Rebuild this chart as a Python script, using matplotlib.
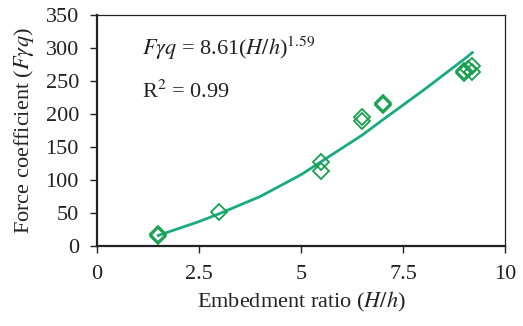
import numpy as np
import matplotlib
matplotlib.use("Agg")
import matplotlib.pyplot as plt

plt.rcParams['font.family'] = ['Liberation Serif', 'DejaVu Serif']
plt.rcParams['mathtext.fontset'] = 'stix'

# measured points
ratio = [1.5, 1.5, 3.0, 5.5, 5.5, 6.5, 6.5, 7.0, 7.0, 9.0, 9.0, 9.1, 9.2, 9.2]
force = [18, 15, 52, 127, 113, 196, 190, 216, 214, 265, 262, 268, 273, 263]

# fitted curve
fit_x = [1.5, 2.5, 3.0, 4.0, 5.0, 5.5, 6.5, 7.0, 8.0, 9.0, 9.2]
fit_y = [16, 37, 49, 75, 108, 128, 168, 191, 236, 283, 293]

xticks = [0, 2.5, 5, 7.5, 10]
xticklabels = ['0', '2.5', '5', '7.5', '10']
yticks = [0, 50, 100, 150, 200, 250, 300, 350]

fig = plt.figure(figsize=(5.23, 3.26), dpi=100)
ax = fig.add_axes([0.1855, 0.2454, 0.78, 0.7086])

ax.plot(fit_x, fit_y, color='#1aaa80', lw=2, zorder=2)
ax.plot(ratio, force, ls='none', marker='D', ms=8, mfc='none',
        mec='#17a04e', mew=1.3, zorder=3)

ax.set_xlim(0, 10)
ax.set_ylim(0, 350)
ax.set_xticks(xticks)
ax.set_xticklabels(xticklabels)
ax.set_yticks(yticks)
ax.tick_params(direction='out', length=5, width=1, labelsize=16, colors='#222222')
ax.tick_params(axis='x', pad=9)
ax.tick_params(axis='y', pad=8)
for s in ['left', 'bottom']:
    ax.spines[s].set_linewidth(1.6)
for s in ['top', 'right']:
    ax.spines[s].set_linewidth(0.9)
for s in ax.spines.values():
    s.set_color('#222222')

ax.set_xlabel(r'Embedment ratio ($H/h$)', fontsize=16, color='#222222', labelpad=4)
ax.set_ylabel(r'Force coefficient ($F\gamma q$)', fontsize=16, color='#222222', labelpad=7)

ax.text(1.1, 300, r'$F\gamma q$ = 8.61($H/h$)$^{1.59}$', fontsize=16, va='center', color='#222222')
ax.text(1.1, 234, r'R$^2$ = 0.99', fontsize=16, va='center', color='#222222')

fig.savefig('out.png', dpi=100)
